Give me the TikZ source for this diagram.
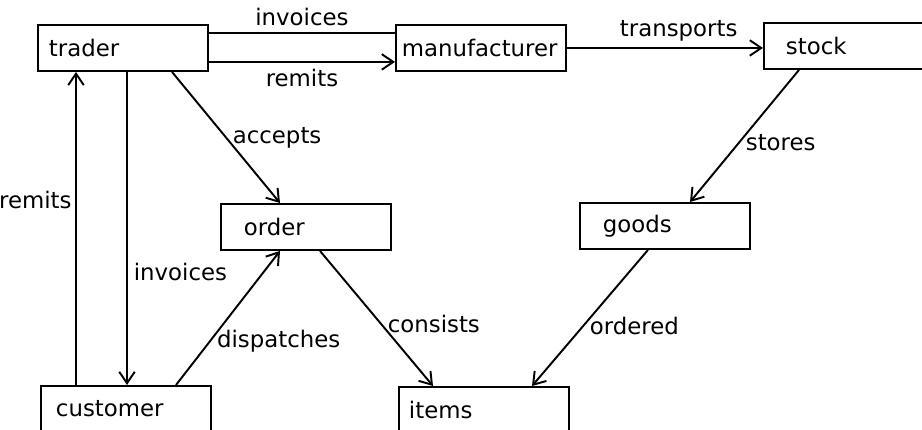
\documentclass[tikz,border=0pt]{standalone}
\usepackage{fontspec}
\setmainfont{DejaVu Sans}
\usetikzlibrary{arrows.meta,calc}

\begin{document}
\begin{tikzpicture}[x=0.02cm, y=-0.02cm, line width=1.1pt,
    >={Straight Barb[length=2.3mm,width=3.1mm]},
    font=\fontsize{13}{15}\selectfont,
    box/.style={draw, anchor=north west, minimum height=0.92cm,
      inner xsep=#1, text width=3.4cm-2*#1, align=left},
    box/.default=0.22cm]
    % 画布
    \useasboundingbox (0,0) rectangle (922,429);
    \clip (0,0) rectangle (922,429);

    % 方框
    \node[box=0.22cm] (trader) at (37,24) {trader};
    \node[box=0.12cm] (manufacturer) at (395,24) {manufacturer};
    \node[box=0.44cm] (stock) at (763,22) {stock};
    \node[box=0.46cm] (order) at (220,203) {order};
    \node[box=0.46cm] (goods) at (579,202) {goods};
    \node[box=0.3cm] (customer) at (40,385) {customer};
    \node[box=0.2cm] (items) at (398,386) {items};

    % 上排连线
    \draw ($(trader.north east)+(0,9)$) -- ($(manufacturer.north west)+(0,9)$)
        node[midway, above] {invoices};
    \draw[->] ($(trader.south east)+(0,-10)$) -- ($(manufacturer.south west)+(0,-10)$)
        node[midway, below] {remits};
    \draw[->] (manufacturer.east) -- (manufacturer.east -| stock.west)
        node[pos=0.57, above] {transports};

    % 左侧连线
    \draw[->] ($(customer.north west)+(36,0)$) -- ($(trader.south west)+(39,0)$)
        node[pos=0.59, left, inner sep=2pt] {remits};
    \draw[->] ($(trader.south west)+(90,0)$) -- ($(customer.north west)+(87,0)$)
        node[pos=0.64, right] {invoices};
    \draw[->] ($(trader.south west)+(135,0)$) -- ($(order.north west)+(60,0)$)
        node[pos=0.5, right] {accepts};
    \draw[->] ($(customer.north west)+(136,0)$) -- ($(order.south west)+(60,0)$)
        node[pos=0.33, right] {dispatches};

    % 右侧连线
    \draw[->] ($(order.south west)+(100,0)$) -- ($(items.north west)+(35,0)$)
        node[pos=0.54, right] {consists};
    \draw[->] ($(stock.south west)+(36,0)$) -- ($(goods.north west)+(111,0)$)
        node[pos=0.55, right] {stores};
    \draw[->] ($(goods.south west)+(69,0)$) -- ($(items.north west)+(134,0)$)
        node[pos=0.56, right] {ordered};
\end{tikzpicture}
\end{document}
